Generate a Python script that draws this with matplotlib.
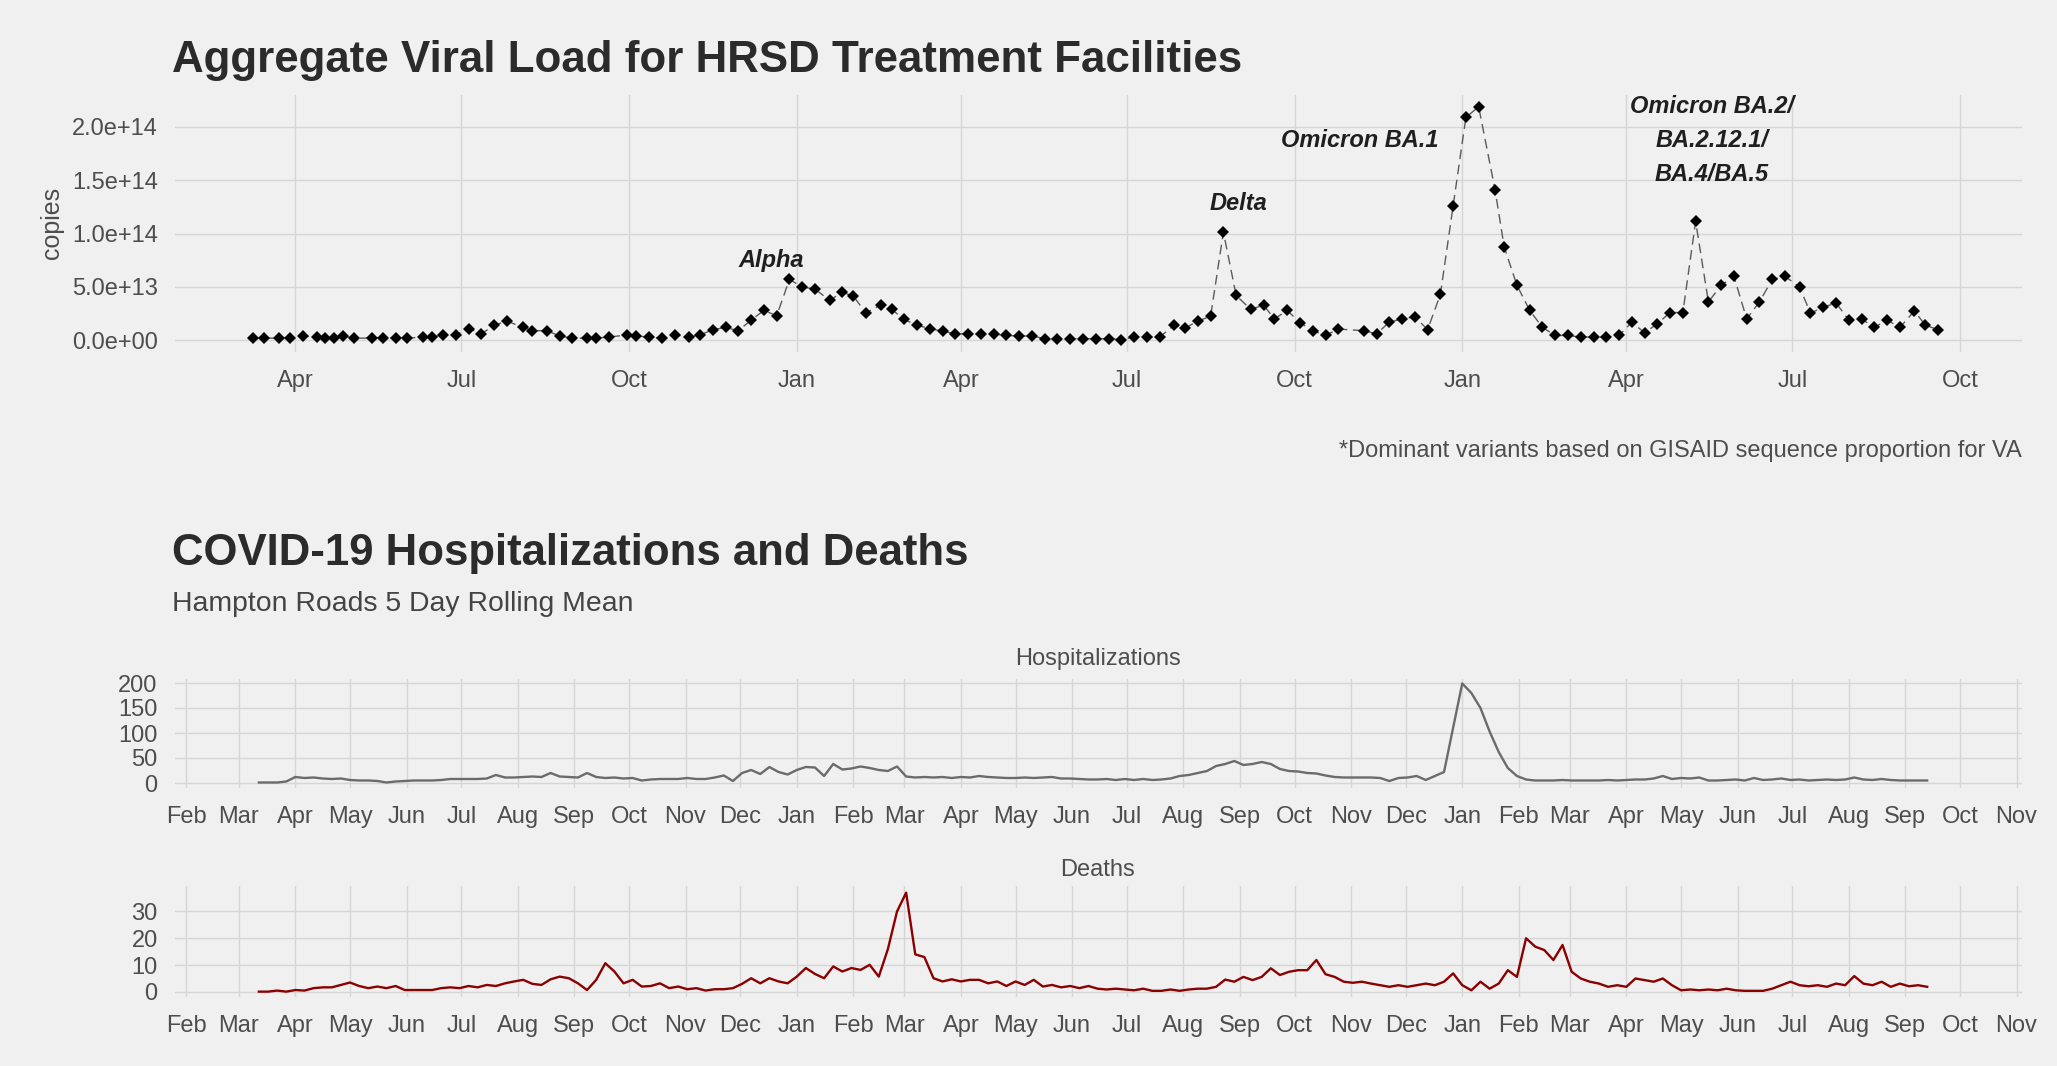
#!/usr/bin/env python3
"""
HRSD wastewater viral load + Hampton Roads hospitalizations / deaths.

Top pane: weekly aggregate copies (diamonds, dashed connector) with the
dominant-variant labels. Bottom: two small-multiple panes of 5-day rolling
means sharing the same date scale.
"""

from __future__ import annotations

import argparse
from typing import Sequence

import matplotlib

matplotlib.use("Agg")
import matplotlib.dates as mdates
import matplotlib.pyplot as plt
import pandas as pd
from matplotlib.axes import Axes
from matplotlib.ticker import FuncFormatter

W_PX, H_PX, DPI = 2057, 1066, 100
BG = "#f0f0f0"
GRID = "#d6d6d6"
TXT = "#4d4d4d"
TITLE_C = "#2b2b2b"

plt.rcParams["font.family"] = ["Liberation Sans", "DejaVu Sans"]

# --- viral load (weekly samples), units of 1e13 copies -----------------------
VIRAL_DATES = [
    "2020-03-09", "2020-03-15", "2020-03-23", "2020-03-29", "2020-04-05", "2020-04-13",
    "2020-04-17", "2020-04-22", "2020-04-27", "2020-05-03", "2020-05-13", "2020-05-19",
    "2020-05-26", "2020-06-01", "2020-06-10", "2020-06-15", "2020-06-21", "2020-06-28",
    "2020-07-05", "2020-07-12", "2020-07-19", "2020-07-26", "2020-08-04", "2020-08-09",
    "2020-08-17", "2020-08-24", "2020-08-31", "2020-09-08", "2020-09-13", "2020-09-20",
    "2020-09-30", "2020-10-05", "2020-10-12", "2020-10-19", "2020-10-26", "2020-11-03",
    "2020-11-09", "2020-11-16", "2020-11-23", "2020-11-30", "2020-12-07", "2020-12-14",
    "2020-12-21", "2020-12-28",
    "2021-01-04", "2021-01-11", "2021-01-19", "2021-01-26", "2021-02-01", "2021-02-08",
    "2021-02-16", "2021-02-22", "2021-03-01", "2021-03-08", "2021-03-15", "2021-03-22",
    "2021-03-29", "2021-04-05", "2021-04-12", "2021-04-19", "2021-04-26", "2021-05-03",
    "2021-05-10", "2021-05-17", "2021-05-24", "2021-05-31", "2021-06-07", "2021-06-14",
    "2021-06-21", "2021-06-28", "2021-07-05", "2021-07-12", "2021-07-19", "2021-07-27",
    "2021-08-02", "2021-08-09", "2021-08-16", "2021-08-23", "2021-08-30", "2021-09-07",
    "2021-09-14", "2021-09-20", "2021-09-27", "2021-10-04", "2021-10-11", "2021-10-18",
    "2021-10-25", "2021-11-08", "2021-11-15", "2021-11-22", "2021-11-29", "2021-12-06",
    "2021-12-13", "2021-12-20", "2021-12-27",
    "2022-01-03", "2022-01-10", "2022-01-19", "2022-01-24", "2022-01-31", "2022-02-07",
    "2022-02-14", "2022-02-21", "2022-02-28", "2022-03-07", "2022-03-14", "2022-03-21",
    "2022-03-28", "2022-04-04", "2022-04-11", "2022-04-18", "2022-04-25", "2022-05-02",
    "2022-05-09", "2022-05-16", "2022-05-23", "2022-05-30", "2022-06-06", "2022-06-13",
    "2022-06-20", "2022-06-27", "2022-07-05", "2022-07-11", "2022-07-18", "2022-07-25",
    "2022-08-01", "2022-08-08", "2022-08-15", "2022-08-22", "2022-08-29", "2022-09-06",
    "2022-09-12", "2022-09-19",
]
VIRAL_COPIES_E13 = [
    0.2, 0.2, 0.2, 0.25, 0.4, 0.3,
    0.2, 0.25, 0.4, 0.2, 0.2, 0.25,
    0.2, 0.2, 0.3, 0.3, 0.5, 0.5,
    1.1, 0.6, 1.4, 1.8, 1.2, 0.9,
    0.9, 0.4, 0.2, 0.2, 0.2, 0.3,
    0.5, 0.4, 0.3, 0.2, 0.5, 0.3,
    0.5, 1.0, 1.2, 0.9, 1.9, 2.8,
    2.3, 5.7,
    5.0, 4.8, 3.75, 4.5, 4.15, 2.55,
    3.3, 2.9, 1.95, 1.4, 1.1, 0.85,
    0.6, 0.6, 0.6, 0.6, 0.45, 0.4,
    0.4, 0.15, 0.15, 0.15, 0.15, 0.15,
    0.15, 0.05, 0.3, 0.3, 0.3, 1.4,
    1.15, 1.8, 2.25, 10.15, 4.2, 2.9,
    3.3, 2.0, 2.8, 1.65, 0.9, 0.45,
    1.05, 0.9, 0.6, 1.7, 2.0, 2.2,
    1.0, 4.3, 12.6,
    20.9, 21.9, 14.1, 8.75, 5.15, 2.8,
    1.2, 0.45, 0.45, 0.3, 0.3, 0.3,
    0.45, 1.7, 0.7, 1.55, 2.6, 2.6,
    11.15, 3.6, 5.15, 6.0, 2.0, 3.6,
    5.7, 6.0, 5.0, 2.55, 3.1, 3.5,
    1.9, 2.0, 1.2, 1.9, 1.2, 2.75,
    1.4, 1.0,
]
COPIES_UNIT = 1e13

VARIANT_LABELS = ["Alpha", "Delta", "Omicron BA.1", "Omicron BA.2/\nBA.2.12.1/\nBA.4/BA.5"]
VARIANT_DATES = ["2020-12-18", "2021-08-31", "2021-11-06", "2022-05-18"]
VARIANT_Y_E13 = [7.5, 12.85, 18.75, 18.75]

# --- 5 day rolling means, one value every 5 days from the start date ---------
ROLL_START = "2020-03-12"
ROLL_STEP = "5D"
HOSP = [
    1, 1, 1, 3, 12, 10, 11, 9, 8, 9,
    6, 5, 5, 4, 1, 3, 4, 5, 5, 5,
    6, 8, 8, 8, 8, 9, 16, 11, 11, 12,
    13, 12, 20, 13, 12, 11, 20, 12, 10, 11,
    9, 10, 5, 7, 8, 8, 8, 10, 8, 8,
    11, 15, 4, 20, 26, 18, 32, 22, 17, 26,
    32, 31, 14, 38, 27, 29, 33, 30, 26, 24,
    33, 13, 11, 12, 11, 12, 10, 12, 11, 14,
    12, 11, 10, 10, 11, 10, 11, 12, 9, 9,
    8, 7, 7, 8, 6, 8, 6, 8, 6, 7,
    9, 14, 16, 20, 24, 34, 38, 44, 36, 38,
    42, 38, 28, 24, 23, 20, 19, 15, 12, 11,
    11, 11, 11, 10, 4, 10, 11, 14, 6, 14,
    22, 110, 199, 180, 150, 103, 62, 30, 14, 7,
    5, 5, 5, 6, 5, 5, 5, 5, 6, 5,
    6, 7, 7, 9, 14, 8, 10, 9, 11, 5,
    5, 6, 7, 5, 10, 6, 7, 9, 6, 7,
    5, 6, 7, 6, 7, 11, 7, 6, 8, 6,
    5, 5, 5, 5,
]
DEATHS = [
    0.1, 0.1, 0.5, 0.1, 0.7, 0.5, 1.4, 1.7, 1.7, 2.6,
    3.5, 2.2, 1.4, 2.0, 1.4, 2.2, 0.7, 0.7, 0.7, 0.7,
    1.4, 1.7, 1.4, 2.2, 1.7, 2.6, 2.2, 3.2, 3.9, 4.5,
    3.0, 2.6, 4.7, 5.7, 5.1, 3.2, 0.7, 4.5, 10.7, 7.6,
    3.2, 4.5, 2.0, 2.2, 3.2, 1.4, 2.0, 1.0, 1.4, 0.5,
    1.0, 1.0, 1.4, 3.0, 5.1, 3.2, 5.1, 3.9, 3.2, 5.7,
    8.9, 6.7, 5.1, 9.5, 7.6, 8.9, 8.2, 10.1, 5.7, 16.0,
    30.0, 37.0, 14.0, 13.0, 5.1, 3.9, 4.7, 3.9, 4.5, 4.5,
    3.2, 3.9, 2.2, 3.9, 2.6, 4.5, 2.0, 2.6, 1.7, 2.2,
    1.4, 2.2, 1.2, 0.9, 1.2, 0.9, 0.6, 1.2, 0.4, 0.4,
    0.9, 0.4, 0.9, 1.2, 1.2, 1.9, 4.6, 3.8, 5.6, 4.4,
    5.6, 8.8, 6.3, 7.5, 8.1, 8.1, 11.9, 6.6, 5.6, 3.8,
    3.4, 3.8, 3.1, 2.5, 1.9, 2.5, 1.9, 2.5, 3.1, 2.5,
    3.8, 6.9, 2.5, 0.6, 3.8, 1.2, 3.1, 8.1, 5.6, 20.0,
    16.9, 15.6, 11.9, 17.5, 7.5, 5.0, 3.8, 3.1, 1.9, 2.5,
    1.9, 5.0, 4.4, 3.8, 5.0, 2.5, 0.6, 0.9, 0.6, 0.9,
    0.6, 1.2, 0.6, 0.4, 0.4, 0.4, 1.2, 2.5, 3.8, 2.5,
    2.1, 2.5, 1.9, 3.1, 2.5, 5.9, 3.1, 2.5, 3.8, 1.9,
    3.1, 2.1, 2.5, 1.9,
]

X_LIMITS = ("2020-01-26", "2022-11-04")


def _axes_px(fig, left: float, top: float, right: float, bottom: float) -> Axes:
    """Axes from pixel box (top-left origin)."""
    return fig.add_axes(
        [left / W_PX, 1 - bottom / H_PX, (right - left) / W_PX, (bottom - top) / H_PX]
    )


def _fig_text(fig, x: float, y: float, s: str, **kw) -> None:
    fig.text(x / W_PX, 1 - y / H_PX, s, **kw)


def _style(ax: Axes, *, x_pad: float = 13.0) -> None:
    ax.set_facecolor(BG)
    for sp in ax.spines.values():
        sp.set_visible(False)
    ax.grid(True, which="major", color=GRID, linewidth=1.0)
    ax.set_axisbelow(True)
    ax.tick_params(axis="both", length=0, labelsize=17, labelcolor=TXT)
    ax.tick_params(axis="x", pad=x_pad)
    ax.tick_params(axis="y", pad=12.5)
    ax.set_xlim(pd.Timestamp(X_LIMITS[0]), pd.Timestamp(X_LIMITS[1]))


def draw_viral(ax: Axes) -> None:
    dates = pd.to_datetime(VIRAL_DATES)
    vals = [v * COPIES_UNIT for v in VIRAL_COPIES_E13]
    _style(ax)
    ax.plot(dates, vals, color="#5a5a5a", linewidth=1.0, linestyle=(0, (7, 4)), zorder=2)
    ax.plot(dates, vals, "D", markersize=6.2, color="black", markeredgewidth=0, zorder=3)
    ax.set_ylim(-0.11e14, 2.30e14)
    ax.set_yticks([0, 5e13, 1e14, 1.5e14, 2e14])
    ax.yaxis.set_major_formatter(FuncFormatter(lambda v, _: f"{v:.1e}"))
    ax.xaxis.set_major_locator(mdates.MonthLocator(bymonth=[1, 4, 7, 10]))
    ax.xaxis.set_major_formatter(mdates.DateFormatter("%b"))

    for lab, d, y in zip(VARIANT_LABELS, VARIANT_DATES, VARIANT_Y_E13):
        ax.text(
            pd.Timestamp(d),
            y * COPIES_UNIT,
            lab,
            ha="center",
            va="center",
            multialignment="center",
            fontsize=17,
            fontweight="bold",
            fontstyle="italic",
            color="#1f1f1f",
            linespacing=1.6,
            clip_on=True,
            zorder=4,
        )


def draw_rolling(ax: Axes, values: Sequence[float], color: str, yticks: Sequence[float],
                 ylim: tuple) -> None:
    dates = pd.date_range(ROLL_START, periods=len(values), freq=ROLL_STEP)
    _style(ax)
    ax.plot(dates, values, color=color, linewidth=1.7, zorder=3)
    ax.set_ylim(*ylim)
    ax.set_yticks(list(yticks))
    ax.xaxis.set_major_locator(mdates.MonthLocator())
    ax.xaxis.set_major_formatter(mdates.DateFormatter("%b"))


def build(out_path: str) -> None:
    fig = plt.figure(figsize=(W_PX / DPI, H_PX / DPI), dpi=DPI, facecolor=BG)

    ax_v = _axes_px(fig, 175, 95, 2022, 352)
    draw_viral(ax_v)

    ax_h = _axes_px(fig, 175, 679, 2022, 788)
    draw_rolling(ax_h, HOSP, "#6b6b6b", [0, 50, 100, 150, 200], (-10, 208))

    ax_d = _axes_px(fig, 175, 886, 2022, 997)
    draw_rolling(ax_d, DEATHS, "#8b0000", [0, 10, 20, 30], (-1.9, 39.5))

    _fig_text(fig, 172, 72, "Aggregate Viral Load for HRSD Treatment Facilities",
              fontsize=31.6, fontweight="bold", color=TITLE_C, va="baseline")
    _fig_text(fig, 52, 223, "copies", rotation=90, fontsize=18, color=TXT,
              ha="center", va="center")
    _fig_text(fig, 2022, 457, "*Dominant variants based on GISAID sequence proportion for VA",
              fontsize=17, color=TXT, ha="right", va="baseline")

    _fig_text(fig, 172, 565, "COVID-19 Hospitalizations and Deaths",
              fontsize=31.5, fontweight="bold", color=TITLE_C, va="baseline")
    _fig_text(fig, 172, 611, "Hampton Roads 5 Day Rolling Mean",
              fontsize=20.4, color="#444444", va="baseline")

    _fig_text(fig, 1098, 665, "Hospitalizations", fontsize=17, color=TXT,
              ha="center", va="baseline")
    _fig_text(fig, 1098, 876, "Deaths", fontsize=17, color=TXT, ha="center", va="baseline")

    fig.savefig(out_path, dpi=DPI, facecolor=BG)
    plt.close(fig)


def main(argv: Sequence[str] | None = None) -> int:
    p = argparse.ArgumentParser(description="HRSD viral load / hospitalizations chart.")
    p.add_argument("-o", "--out", default="out.png", help="Output PNG path.")
    args = p.parse_args(list(argv) if argv is not None else None)
    build(args.out)
    return 0


if __name__ == "__main__":
    raise SystemExit(main())
